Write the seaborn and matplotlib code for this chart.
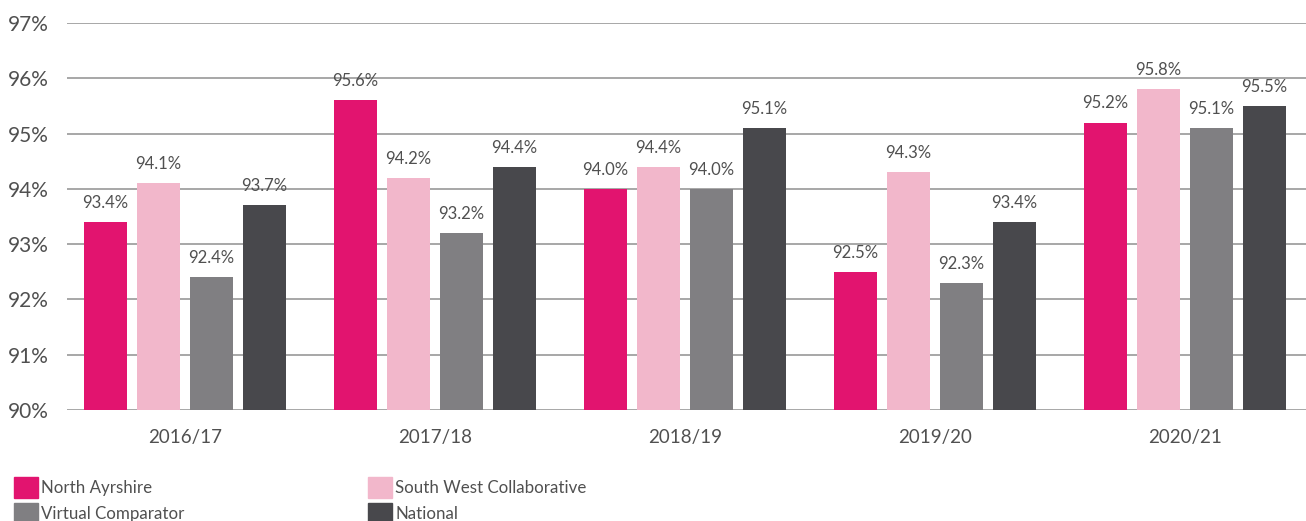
import matplotlib
matplotlib.use("Agg")
import matplotlib.pyplot as plt
import seaborn as sns
import pandas as pd
from matplotlib.patches import Patch

years = ["2016/17", "2017/18", "2018/19", "2019/20", "2020/21"]
series = ["North Ayrshire", "South West Collaborative", "Virtual Comparator", "National"]
north_ayrshire = [93.4, 95.6, 94.0, 92.5, 95.2]
south_west = [94.1, 94.2, 94.4, 94.3, 95.8]
virtual_comp = [92.4, 93.2, 94.0, 92.3, 95.1]
national = [93.7, 94.4, 95.1, 93.4, 95.5]
yticks = [90, 91, 92, 93, 94, 95, 96, 97]

colors = ["#E2146F", "#F2B7CB", "#807F82", "#48484C"]

rows = []
for name, vals in zip(series, [north_ayrshire, south_west, virtual_comp, national]):
    for y, v in zip(years, vals):
        rows.append({"year": y, "series": name, "value": v})
df = pd.DataFrame(rows)

sns.set_theme(style="white")
plt.rcParams["font.family"] = ["Lato", "DejaVu Sans"]
text_color = "#505050"

fig = plt.figure(figsize=(13.06, 5.21), dpi=100)
ax = fig.add_axes([67 / 1306, (521 - 410) / 521, (1306 - 67) / 1306, (410 - 23) / 521])

sns.barplot(data=df, x="year", y="value", hue="series", hue_order=series, order=years,
            palette=colors, width=0.848, gap=0.17, ax=ax, legend=False,
            saturation=1, linewidth=0)

for cont in ax.containers:
    ax.bar_label(cont, fmt="%.1f%%", padding=8, fontsize=12, color=text_color)

ax.set_ylim(90, 97)
ax.set_xlim(-0.472, 4.484)
ax.set_yticks(yticks)
ax.set_yticklabels([f"{t}%" for t in yticks], fontsize=15, color=text_color)
ax.tick_params(axis="x", labelsize=13.5, labelcolor=text_color, pad=14, length=0)
ax.tick_params(axis="y", pad=13, length=0)
ax.set_xlabel("")
ax.set_ylabel("")
for s in ax.spines.values():
    s.set_visible(False)
ax.yaxis.grid(True, color="#8f8f8f", linewidth=1.1)
ax.set_axisbelow(True)

h1 = [Patch(color=colors[0]), Patch(color=colors[2])]
h2 = [Patch(color=colors[1]), Patch(color=colors[3])]
leg_kw = dict(frameon=False, fontsize=12.2, handlelength=1.4, handleheight=1.5,
              handletextpad=0.2, labelspacing=0.32, borderaxespad=0, borderpad=0)
l1 = fig.legend(h1, [series[0], series[2]], loc="lower left",
                bbox_to_anchor=(14 / 1306, -3 / 521), labelcolor=text_color, **leg_kw)
l2 = fig.legend(h2, [series[1], series[3]], loc="lower left",
                bbox_to_anchor=(368 / 1306, -3 / 521), labelcolor=text_color, **leg_kw)

fig.savefig("out.png", dpi=100)
